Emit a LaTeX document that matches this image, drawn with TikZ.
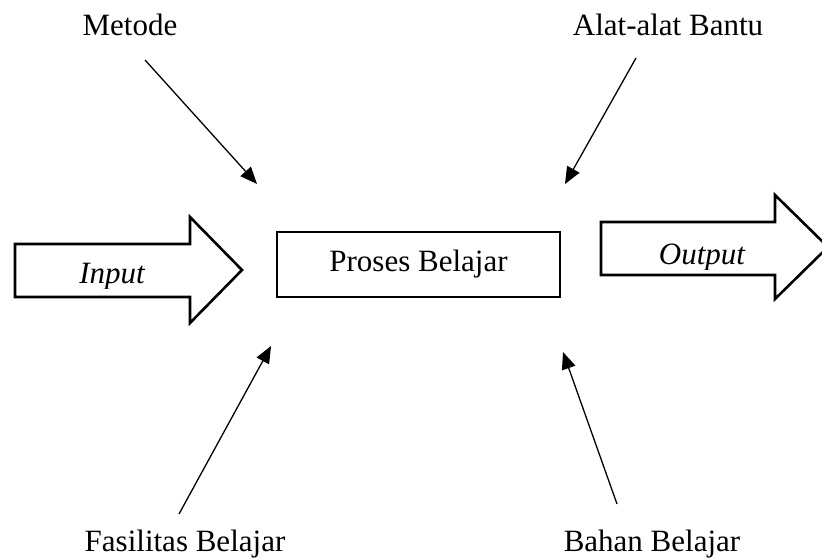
\documentclass[tikz,border=0pt]{standalone}
\usepackage{fontspec}
\setmainfont{Liberation Serif}
\usetikzlibrary{arrows.meta}
\begin{document}
\begin{tikzpicture}[x=1pt,y=-1pt,
  lbl/.style={font=\fontsize{31}{36}\selectfont, inner sep=0pt, anchor=base},
  feed/.style={line width=1.3pt, -{Triangle[length=17pt,width=14pt]}},
  blockarrow/.style={line width=2.6pt, line join=miter, fill=white},
  procbox/.style={draw, line width=1.3pt, minimum width=283pt, minimum height=65pt,
    inner sep=0pt, font=\fontsize{31}{36}\selectfont}]
\useasboundingbox (0,0) rectangle (822,557);
\clip (0,0) rectangle (822,557);

% central process
\node[procbox] (proc) at (418.5,264.5) {Proses Belajar};

% input / output block arrows
\draw[blockarrow] (15,244) -- (190,244) -- (190,217) -- (242,270)
  -- (190,323) -- (190,297) -- (15,297) -- cycle;
\draw[blockarrow] (601,222) -- (775,222) -- (775,195) -- (828,247)
  -- (775,299) -- (775,275) -- (601,275) -- cycle;
\begin{scope}
  \clip (20,248) rectangle (185,288);
  \node[lbl] (in) at (112,283) {\itshape Input};
\end{scope}
\begin{scope}
  \clip (606,226) rectangle (770,269);
  \node[lbl] (out) at (702,264) {\itshape Output};
\end{scope}

% surrounding factors
\node[lbl] (metode) at (130,35) {Metode};
\node[lbl] (alat) at (668,35) {Alat-alat Bantu};
\node[lbl] (fas) at (185,551) {Fasilitas Belajar};
\node[lbl] (bahan) at (652,551) {Bahan Belajar};

\coordinate (metS) at (145,60);  \coordinate (metE) at (257,184);
\coordinate (alaS) at (636,58);  \coordinate (alaE) at (565,184);
\coordinate (fasS) at (179,514); \coordinate (fasE) at (271,346);
\coordinate (bahS) at (617,504); \coordinate (bahE) at (563,352);

\draw[feed] (metS) -- (metE);
\draw[feed] (alaS) -- (alaE);
\draw[feed] (fasS) -- (fasE);
\draw[feed] (bahS) -- (bahE);
\end{tikzpicture}
\end{document}
